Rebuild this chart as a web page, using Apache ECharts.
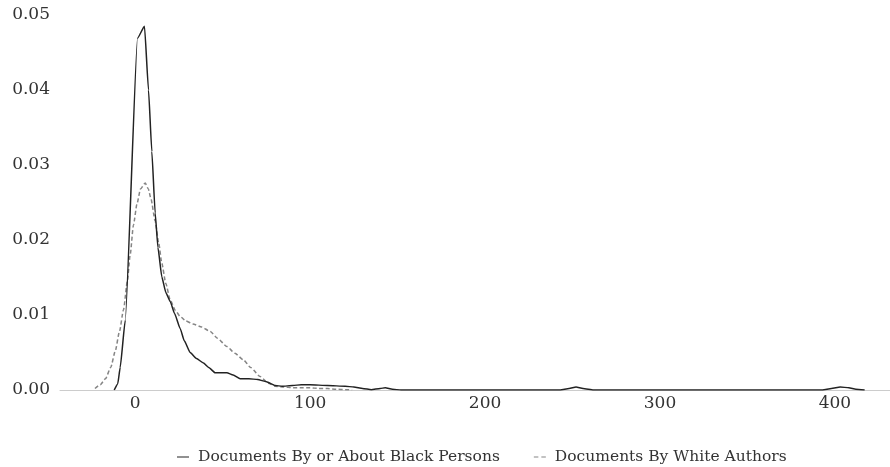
<!DOCTYPE html>
<html>
<head>
<meta charset="utf-8">
<script src="https://cdn.jsdelivr.net/npm/echarts@6/dist/echarts.min.js"></script>
<style>
  html, body { margin: 0; padding: 0; background: #fff; }
  #chart { width: 890px; height: 467px; }
</style>
</head>
<body>
<div id="chart"></div>
<script>
// Density estimates of document length, two corpora
const seriesNames = ['Documents By or About Black Persons', 'Documents By White Authors'];

const blackX = [-12, -10, -8.6, -5.7, 1.3, 5.3, 7.6, 9.5, 11.4, 13, 15.2, 17.5, 20, 22.5, 25.7, 28, 31.4,
  35, 39, 42, 45.7, 49, 52.4, 56, 60, 65, 70, 75, 80, 84, 90, 95, 100, 110, 120, 125, 130,
  135, 140, 143, 147, 152, 243, 248, 252, 256, 262, 393, 398, 403, 408, 412, 417];
const blackY = [0.0, 0.0008, 0.0030, 0.0093, 0.0469, 0.0485, 0.0400, 0.0318, 0.0236,
  0.0190, 0.0151, 0.0130, 0.0118, 0.0102, 0.0082, 0.0066, 0.0050,
  0.0042, 0.0036, 0.0030, 0.0023, 0.0023, 0.0023, 0.0020, 0.0015, 0.0015, 0.0014, 0.0011, 0.0006, 0.0005,
  0.0006, 0.0007, 0.0007, 0.0006, 0.0005, 0.0004, 0.0002,
  0.00005, 0.0002, 0.0003, 0.0001, 0.0, 0.0, 0.0002, 0.0004, 0.0002, 0.0, 0.0, 0.0002, 0.0004, 0.0003, 0.0001, 0.0];

const whiteX = [-23, -20, -17, -14, -11.4, -9, -6.7, -4.5, -2.9, -1, 1, 3, 5.7, 7.5, 9, 11.4, 13.5, 15.2, 17.5,
  20, 23, 25.7, 29, 33, 38, 42.9, 47, 52.4, 57, 61.9, 66, 71.4, 76, 80, 85, 90, 95, 100, 105, 110, 115, 120, 124];
const whiteY = [0.0002, 0.0007, 0.0015, 0.0030, 0.0052, 0.0078, 0.0107, 0.0145, 0.0180, 0.0220, 0.0248, 0.0268,
  0.0276, 0.0268, 0.0255, 0.0225, 0.0195, 0.0169, 0.0142,
  0.0120, 0.0106, 0.0098, 0.0092, 0.0088, 0.0084, 0.0078, 0.0069, 0.0058, 0.0049, 0.0040, 0.0030, 0.0018,
  0.0009, 0.0005, 0.0004, 0.0003, 0.0003, 0.0003, 0.0002, 0.0002, 0.0001, 0.00005, 0.0];

const xTicks = [0, 100, 200, 300, 400];
const yTicks = [0, 0.01, 0.02, 0.03, 0.04, 0.05];

const zip = (xs, ys) => xs.map((x, i) => [x, ys[i]]);
const font = 'DejaVu Serif';

const chart = echarts.init(document.getElementById('chart'), null, { renderer: 'canvas' });
chart.setOption({
  animation: false,
  backgroundColor: '#ffffff',
  textStyle: { fontFamily: font },
  grid: { left: 60, right: 0, top: 15, bottom: 77, containLabel: false },
  legend: {
    top: 449,
    left: 177,
    padding: 0,
    itemWidth: 12,
    itemHeight: 1.5,
    itemGap: 34,
    textStyle: { fontFamily: font, fontSize: 15.5, color: '#333', padding: [0, 0, 0, 4] },
    data: [
      { name: seriesNames[0], icon: 'path://M0,0H12V1H0Z' },
      { name: seriesNames[1], icon: 'path://M0,0H4.5V1H0Z M7.5,0H12V1H7.5Z' }
    ]
  },
  xAxis: {
    type: 'value',
    min: -43,
    max: 431.5,
    axisLine: { show: true, lineStyle: { color: '#cccccc', width: 1 } },
    axisTick: { show: false },
    splitLine: { show: false },
    axisLabel: {
      customValues: xTicks,
      margin: 5,
      fontFamily: font,
      fontSize: 17,
      color: '#333'
    }
  },
  yAxis: {
    type: 'value',
    min: 0,
    max: 0.05,
    axisLine: { show: false },
    axisTick: { show: false },
    splitLine: { show: false },
    axisLabel: {
      customValues: yTicks,
      margin: 10,
      fontFamily: font,
      fontSize: 17,
      color: '#333',
      padding: [5, 0, 0, 0],
      formatter: v => v.toFixed(2)
    }
  },
  series: [
    {
      name: seriesNames[0],
      type: 'line',
      data: zip(blackX, blackY),
      showSymbol: false,
      symbol: 'none',
      smooth: 0.15,
      smoothMonotone: 'x',
      lineStyle: { color: '#222222', width: 1.5 },
      itemStyle: { color: '#222222' },
      z: 3
    },
    {
      name: seriesNames[1],
      type: 'line',
      data: zip(whiteX, whiteY),
      showSymbol: false,
      symbol: 'none',
      smooth: 0.2,
      smoothMonotone: 'x',
      lineStyle: { color: '#858585', width: 1.5, type: [4, 2.5] },
      itemStyle: { color: '#858585' },
      z: 2
    }
  ]
});
</script>
</body>
</html>
